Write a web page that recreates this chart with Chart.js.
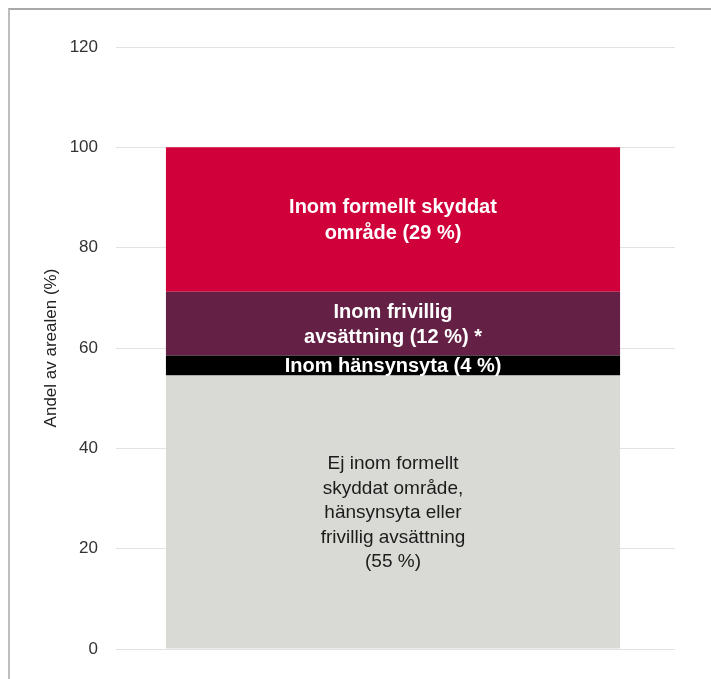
<!DOCTYPE html>
<html>
<head>
<meta charset="utf-8">
<script src="https://cdn.jsdelivr.net/npm/chart.js@4/dist/chart.umd.min.js"></script>
<style>
  body { margin: 0; background: #fff; }
  #wrap { position: relative; width: 711px; height: 679px; }
  #frame { position: absolute; left: 8px; top: 8px; right: -4px; bottom: -4px;
           border-top: 2px solid #a8a8a8; border-left: 2px solid #bdbdbd; }
  #chart1 { position: absolute; left: 0; top: 0; }
</style>
</head>
<body>
<div id="wrap">
  <div id="frame"></div>
  <canvas id="chart1" width="711" height="679"></canvas>
</div>
<script>
  // one stacked column, bottom segment first
  let categories = ['Skogsmark'];
  let segmentNames = ['Ej inom', 'Hänsynsyta', 'Frivillig avsättning', 'Formellt skyddat'];
  let segmentValues = [54.5, 4.0, 12.7, 28.8];
  let segmentColors = ['#d9dad5', '#000000', '#652145', '#d0003a'];
  let segmentLabels = [
    ['Ej inom formellt', 'skyddat område,', 'hänsynsyta eller', 'frivillig avsättning', '(55 %)'],
    ['Inom hänsynsyta (4 %)'],
    ['Inom frivillig', 'avsättning (12 %) *'],
    ['Inom formellt skyddat', 'område (29 %)']
  ];
  let yMin = 0, yMax = 120, yStep = 20;
  let yTitle = 'Andel av arealen (%)';

  let fontName = '"Liberation Sans", Arial, sans-serif';
  let gridColor = '#e2e2e2';

  let datasets = [];
  for (let i = 0; i < segmentValues.length; i++) {
    datasets.push({
      label: segmentNames[i],
      data: [segmentValues[i]],
      backgroundColor: segmentColors[i],
      borderWidth: 0,
      barPercentage: 0.87,
      categoryPercentage: 1.0
    });
  }

  //writes the segment texts in the middle of each piece of the bar
  let segmentText = {
    id: 'segmentText',
    afterDatasetsDraw(chart) {
      let ctx = chart.ctx;
      ctx.save();
      ctx.textAlign = 'center';
      ctx.textBaseline = 'middle';
      for (let i = 0; i < chart.data.datasets.length; i++) {
        let el = chart.getDatasetMeta(i).data[0];
        let lines = segmentLabels[i];
        let lh;
        if (i == 0) {
          ctx.font = '19px ' + fontName;
          ctx.fillStyle = '#1c1c1c';
          lh = 24.5;
        } else {
          ctx.font = 'bold 20px ' + fontName;
          ctx.fillStyle = '#ffffff';
          lh = i == 3 ? 26.5 : 25;
        }
        let cy = (el.y + el.base) / 2;
        let start = cy - (lines.length - 1) * lh / 2 + 1;
        for (let l = 0; l < lines.length; l++) {
          ctx.fillText(lines[l], el.x, start + l * lh);
        }
      }
      ctx.restore();
    }
  };

  new Chart(document.getElementById('chart1'), {
    type: 'bar',
    data: { labels: categories, datasets: datasets },
    options: {
      responsive: false,
      animation: false,
      layout: { padding: { left: 0, top: 47, right: 36, bottom: 30 } },
      plugins: { legend: { display: false }, tooltip: { enabled: false } },
      scales: {
        x: { stacked: true, display: false },
        y: {
          stacked: true,
          position: 'left',
          min: yMin, max: yMax,
          ticks: { stepSize: yStep, padding: 18, color: '#333333', font: { family: fontName, size: 17 } },
          grid: { color: gridColor, lineWidth: 1, tickLength: 16 },
          border: { display: false },
          title: {
            display: true, text: yTitle, color: '#222222',
            font: { family: fontName, size: 17 },
            padding: { top: 41, bottom: 0 }
          },
          afterFit(scale) { scale.width = 132; }
        },
        y2: {
          position: 'right',
          min: yMin, max: yMax,
          ticks: { stepSize: yStep, display: false },
          grid: { color: gridColor, lineWidth: 1, tickLength: 21, drawOnChartArea: false },
          border: { display: false }
        }
      }
    },
    plugins: [segmentText]
  });
</script>
</body>
</html>
